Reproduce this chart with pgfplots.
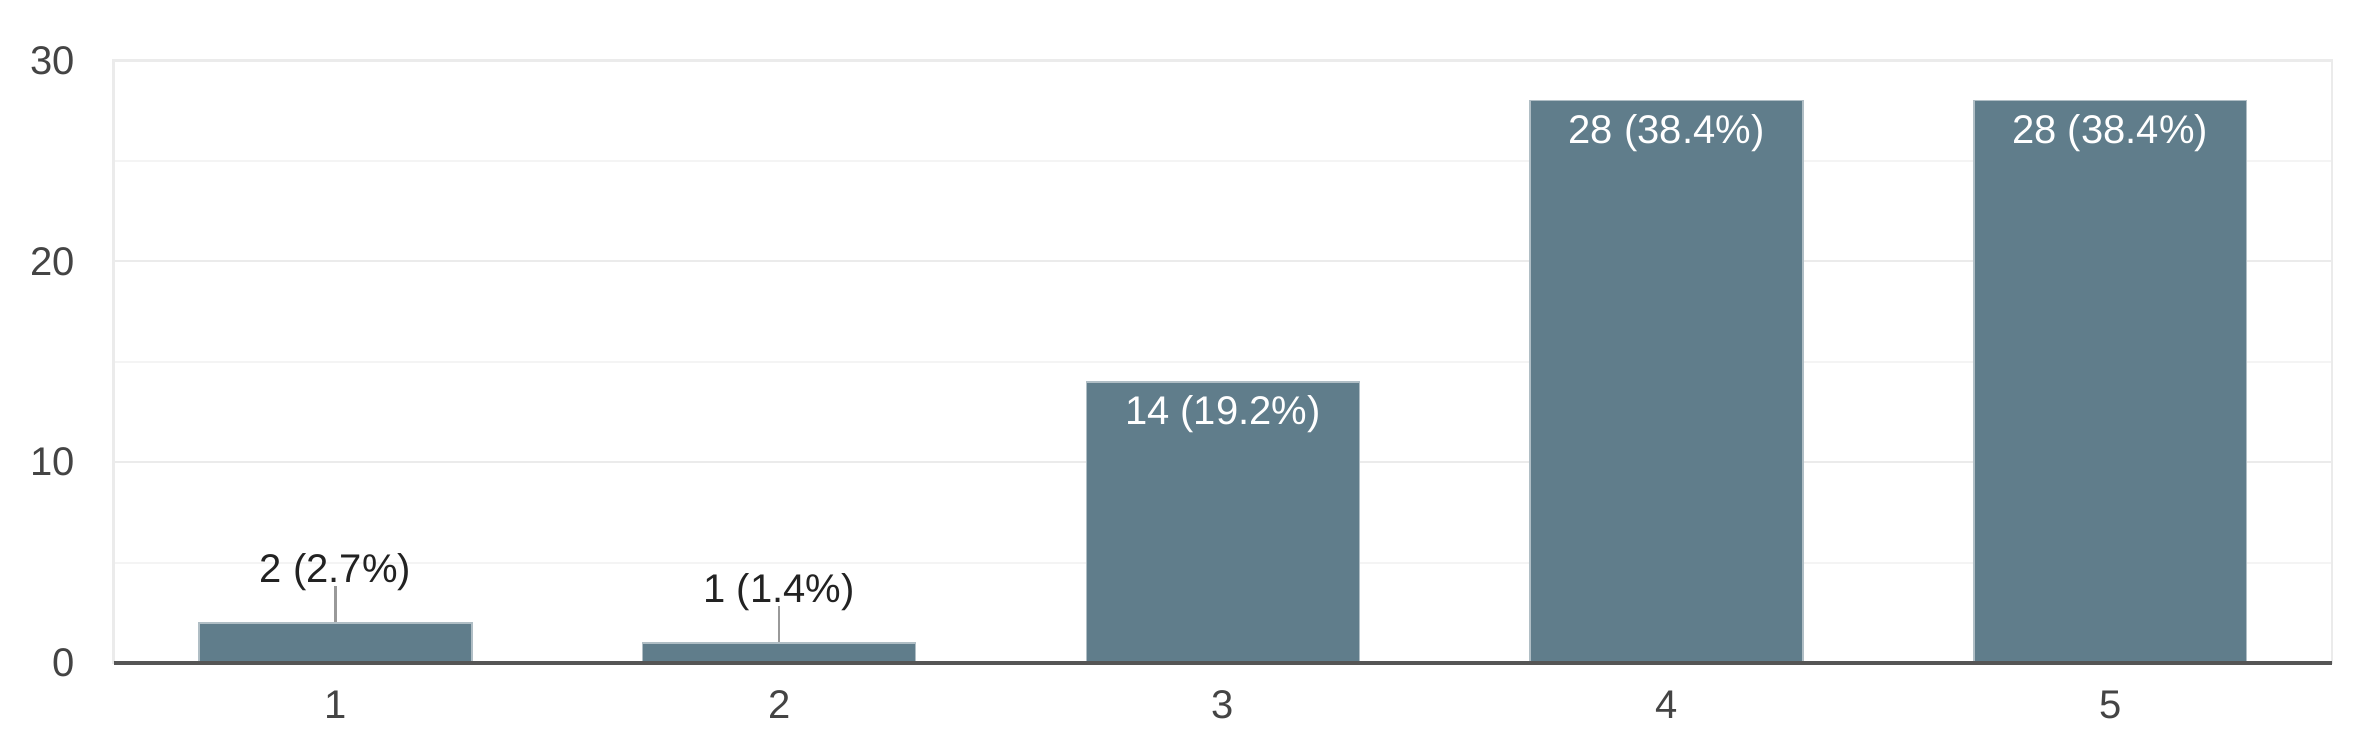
\documentclass[border=0pt]{standalone}
\usepackage{pgfplots}
\pgfplotsset{compat=1.18}
\usepackage{fontspec}
\setmainfont{Liberation Sans}
\definecolor{barcol}{HTML}{607D8B}
\definecolor{baredge}{HTML}{B0BEC5}
\definecolor{ticktext}{HTML}{444444}
\definecolor{labtext}{HTML}{222222}
\definecolor{majgrid}{HTML}{EBEBEB}
\definecolor{mingrid}{HTML}{F4F4F4}
\definecolor{axisdark}{HTML}{555555}
\definecolor{leader}{HTML}{999999}
\begin{document}
\begin{tikzpicture}
\begin{axis}[
  at={(0,0)}, anchor=south west,
  width=887.4pt, height=241pt, scale only axis,
  xmin=0.5, xmax=5.5, ymin=0, ymax=30,
  xtick={1,2,3,4,5}, ytick={0,10,20,30},
  minor ytick={5,15,25},
  ymajorgrids, yminorgrids,
  major grid style={draw=majgrid, line width=0.9pt},
  minor grid style={draw=mingrid, line width=0.8pt},
  major tick length=0pt, minor tick length=0pt,
  axis line style={draw=majgrid, line width=0.9pt},
  font=\fontsize{16}{19}\selectfont,
  /pgf/number format/assume math mode=true,
  ticklabel style={text=ticktext},
  yticklabel style={xshift=-12pt},
  xticklabel style={yshift=-7.5pt},
  clip=false,
]
% leader lines + outside labels
\addplot[ycomb, draw=leader, line width=0.9pt, mark=none,
  nodes near coords, point meta=explicit symbolic,
  every node near coord/.style={anchor=center, yshift=5.6pt, text=labtext, font=\fontsize{16}{19}\selectfont}]
  coordinates {(1,3.83) [{2 (2.7\%)}] (2,2.83) [{1 (1.4\%)}]};
% small bars
\addplot[ybar, bar width=0.615, bar shift=0pt, fill=barcol, draw=baredge, line width=0.6pt]
  coordinates {(1,2) (2,1)};
% large bars with inside labels
\addplot[ybar, bar width=0.615, bar shift=0pt, fill=barcol, draw=baredge, line width=0.6pt,
  nodes near coords, point meta=explicit symbolic,
  every node near coord/.style={anchor=center, yshift=-12.8pt, text=white, font=\fontsize{16}{19}\selectfont}]
  coordinates {(3,14) [{14 (19.2\%)}] (4,28) [{28 (38.4\%)}] (5,28) [{28 (38.4\%)}]};
\draw[axisdark, line width=1.3pt] (rel axis cs:0,0) -- (rel axis cs:1,0);
\end{axis}
\pgfresetboundingbox
\path (-45.44pt,-34.8pt) rectangle (904.56pt,265.2pt);
\end{tikzpicture}
\end{document}
